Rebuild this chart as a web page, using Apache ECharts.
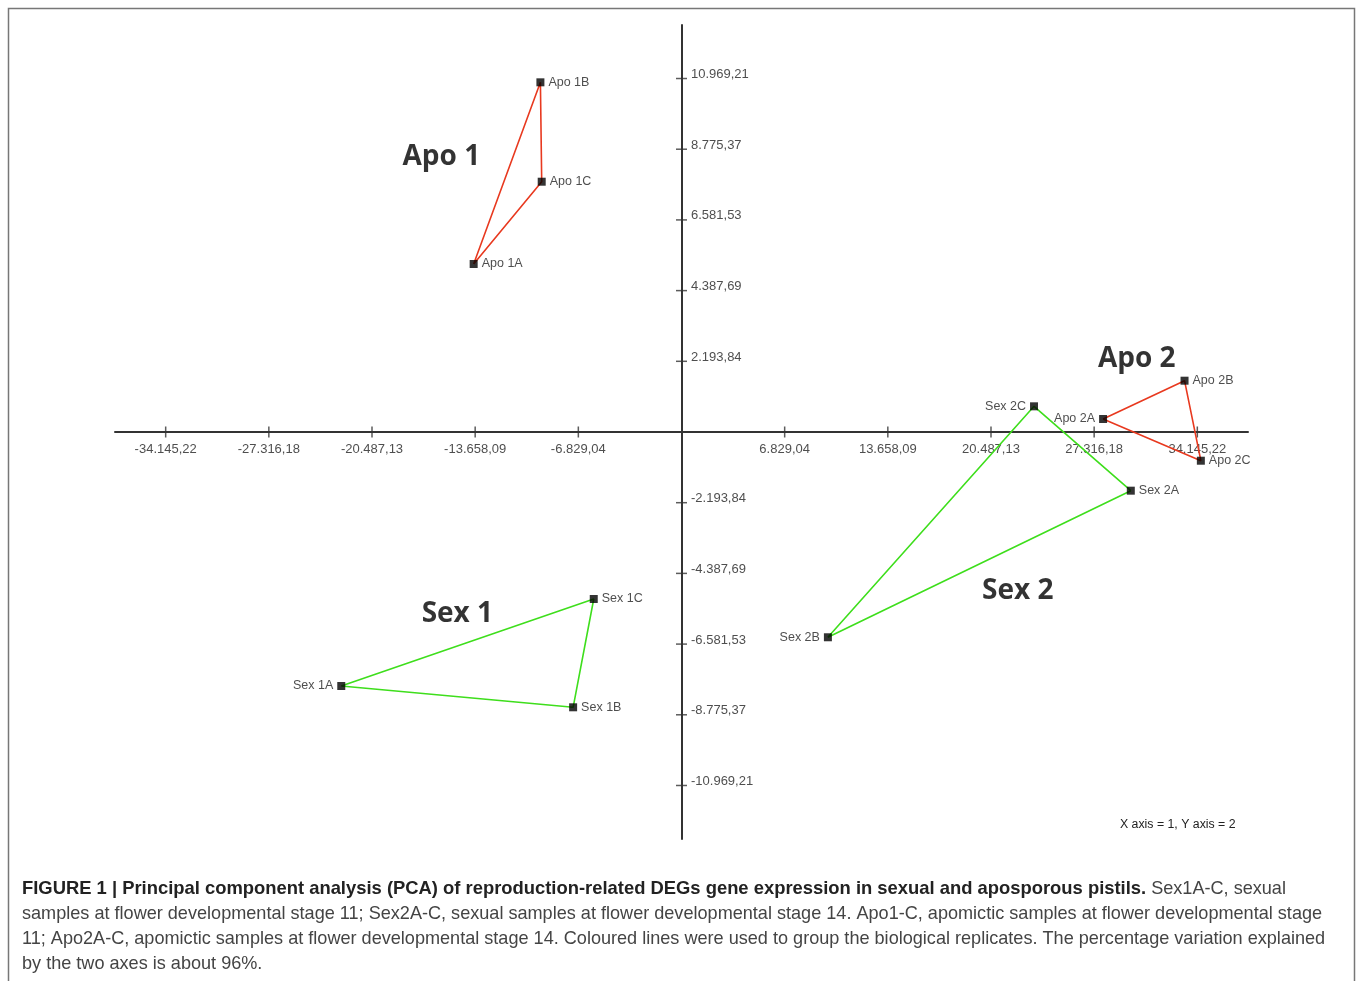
<!DOCTYPE html>
<html>
<head>
<meta charset="utf-8">
<script src="https://cdn.jsdelivr.net/npm/echarts@6/dist/echarts.min.js"></script>
<style>
html,body{margin:0;padding:0;background:#fff;}
#chart{width:1357px;height:981px;}
</style>
</head>
<body>
<div id="chart"></div>
<script>
// ---- data ----
const sampleNames = ['Apo 1A','Apo 1B','Apo 1C','Apo 2A','Apo 2B','Apo 2C','Sex 1A','Sex 1B','Sex 1C','Sex 2A','Sex 2B','Sex 2C'];
const pc1 = [-13758, -9340, -9254, 27907, 33299, 34379, -22522, -7174, -5809, 29742, 9691, 23336];
const pc2 = [5213, 10851, 7767, 403, 1592, -891, -7882, -8543, -5182, -1821, -6370, 797];

const groupNames = ['Apo 1', 'Apo 2', 'Sex 1', 'Sex 2'];
const groupMembers = [
  ['Apo 1A','Apo 1B','Apo 1C'],
  ['Apo 2A','Apo 2B','Apo 2C'],
  ['Sex 1A','Sex 1B','Sex 1C'],
  ['Sex 2A','Sex 2B','Sex 2C']
];
const groupLabelX = [-15898, 30139, -14838, 22257];
const groupLabelY = [8533, 2265, -5647, -4934];

const xTicks = [-34145.22, -27316.18, -20487.13, -13658.09, -6829.04, 6829.04, 13658.09, 20487.13, 27316.18, 34145.22];
const yTicks = [-10969.21, -8775.37, -6581.53, -4387.69, -2193.84, 2193.84, 4387.69, 6581.53, 8775.37, 10969.21];

const axisNote = 'X axis = 1, Y axis = 2';
const captionBold = 'FIGURE 1 | Principal component analysis (PCA) of reproduction-related DEGs gene expression in sexual and aposporous pistils.';
const captionLines = [
  ' Sex1A-C, sexual',
  'samples at flower developmental stage 11; Sex2A-C, sexual samples at flower developmental stage 14. Apo1-C, apomictic samples at flower developmental stage',
  '11; Apo2A-C, apomictic samples at flower developmental stage 14. Coloured lines were used to group the biological replicates. The percentage variation explained',
  'by the two axes is about 96%.'
];

// ---- styling ----
const groupColors = {'Apo 1':'#e8391f','Apo 2':'#e8391f','Sex 1':'#3ede1c','Sex 2':'#3ede1c'};
const leftLabelled = new Set(['Sex 2C','Apo 2A','Sex 1A','Sex 2B']);
const axisCol = '#333';
const labelFont = 'Liberation Sans, Arial, sans-serif';

function fmt(v){
  const neg = v < 0;
  const s = Math.abs(v).toFixed(2);
  let [ip, dp] = s.split('.');
  ip = ip.replace(/\B(?=(\d{3})+(?!\d))/g, '.');
  return (neg ? '-' : '') + ip + ',' + dp;
}

function pointOf(name){
  const i = sampleNames.indexOf(name);
  return [pc1[i], pc2[i]];
}

const series = [];
groupNames.forEach((g, gi) => {
  const pts = groupMembers[gi].map(pointOf);
  pts.push(pts[0]);
  series.push({
    type: 'line', name: g, data: pts, symbol: 'none', silent: true,
    lineStyle: {color: groupColors[g], width: 1.6}, z: 3, animation: false
  });
});

// crossing tick marks and their labels, placed on the zero lines
series.push({
  type: 'scatter', name: 'xticks', symbol: 'rect', symbolSize: [1.5, 11], silent: true, z: 2,
  itemStyle: {color: axisCol}, animation: false,
  data: xTicks.map(v => [v, 0]),
  label: {show: true, position: 'bottom', distance: 5, formatter: p => fmt(p.value[0]),
    fontFamily: labelFont, fontSize: 13, color: '#222'}
});
series.push({
  type: 'scatter', name: 'yticks', symbol: 'rect', symbolSize: [11, 1.5], silent: true, z: 2,
  itemStyle: {color: axisCol}, animation: false,
  data: yTicks.map(v => [0, v]),
  label: {show: true, position: 'right', distance: 4, offset: [0, -4], formatter: p => fmt(p.value[1]),
    fontFamily: labelFont, fontSize: 13, color: '#222'}
});

series.push({
  type: 'scatter', name: 'samples', symbol: 'rect', symbolSize: 8, z: 5,
  itemStyle: {color: '#000'}, animation: false,
  data: sampleNames.map((n, i) => ({
    name: n, value: [pc1[i], pc2[i]],
    label: {position: leftLabelled.has(n) ? 'left' : 'right'}
  })),
  label: {
    show: true, formatter: '{b}', distance: 4,
    fontFamily: labelFont, fontSize: 12.5, color: '#222'
  }
});

series.push({
  type: 'scatter', name: 'groups', symbolSize: 0, z: 6, silent: true, animation: false,
  data: groupNames.map((g, i) => ({name: g, value: [groupLabelX[i], groupLabelY[i]]})),
  label: {
    show: true, position: 'inside', formatter: '{b}',
    fontFamily: 'Open Sans, sans-serif', fontWeight: 'bold', fontSize: 28, color: '#000'
  }
});

const option = {
  backgroundColor: '#fff',
  animation: false,
  grid: {left: 115, right: 109, top: 25, bottom: 142, containLabel: false},
  xAxis: {
    type: 'value', min: -37500, max: 37500, splitLine: {show: false},
    axisLine: {show: true, onZero: true, lineStyle: {color: axisCol, width: 2}},
    axisTick: {show: false},
    axisLabel: {show: false}
  },
  yAxis: {
    type: 'value', min: -12630, max: 12630, splitLine: {show: false},
    axisLine: {show: true, onZero: true, lineStyle: {color: axisCol, width: 2}},
    axisTick: {show: false},
    axisLabel: {show: false}
  },
  series: series,
  graphic: [
    {type: 'rect', silent: true, z: 0,
      shape: {x: 8.5, y: 8.5, width: 1346, height: 1000},
      style: {fill: 'none', stroke: '#777', lineWidth: 1.5}},
    {type: 'text', left: 1120, top: 819, silent: true,
      style: {text: axisNote, fontFamily: labelFont, fontSize: 12.3, fill: '#222'}},
    {type: 'text', left: 22, top: 880, silent: true,
      style: {
        text: '{b|' + captionBold + '}{r|' + captionLines.join('\n') + '}',
        rich: {
          b: {fontFamily: labelFont, fontSize: 18.4, fontWeight: 'bold', fill: '#222', lineHeight: 25},
          r: {fontFamily: labelFont, fontSize: 18.1, fill: '#444', lineHeight: 25}
        }
      }}
  ]
};

const chart = echarts.init(document.getElementById('chart'), null, {renderer: 'canvas'});
chart.setOption(option);
</script>
</body>
</html>
